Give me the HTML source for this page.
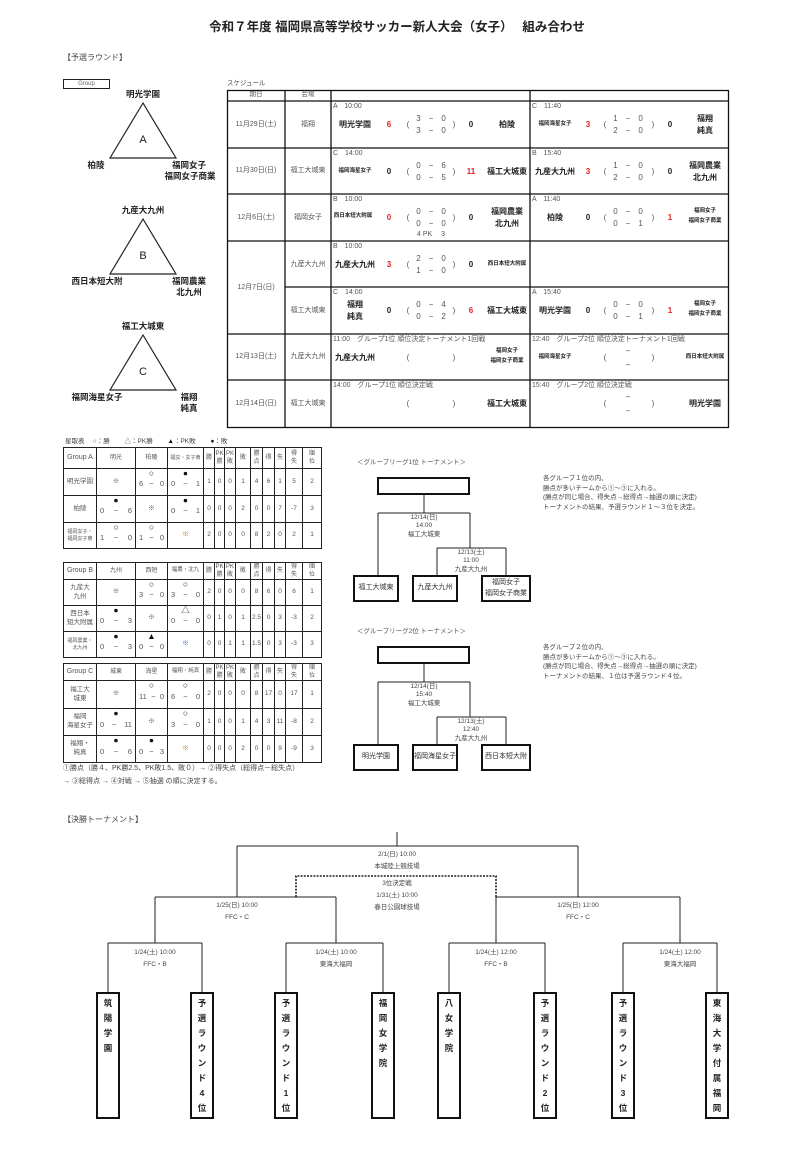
<!DOCTYPE html>
<html><head><meta charset="utf-8">
<style>
*{margin:0;padding:0;box-sizing:border-box}
body{width:807px;height:1154px;background:#fff;position:relative;font-family:"Liberation Sans","Noto Sans CJK JP",sans-serif;color:#222;overflow:hidden}
.a{position:absolute;white-space:nowrap;line-height:1}
.c{position:absolute;white-space:nowrap;line-height:1;transform:translateX(-50%)}
.b{font-weight:bold}
.g{color:#555}
.r{color:#e02020}
.m{position:absolute;width:199px;height:46px;font-size:8px}
.m .c,.m .a{font-size:8px}
.m .lb{position:absolute;left:2px;top:2px;font-size:7px;color:#555;white-space:nowrap;line-height:1}
.sm{font-size:5.5px!important}
table.s{position:absolute;border-collapse:collapse;table-layout:fixed;left:63px;width:258px}
table.s td{border:1.3px solid #222;text-align:center;font-size:6.5px;color:#555;position:relative;padding:0;line-height:1.35}
table.s tr.h td{font-size:6px}
.sc{display:flex;justify-content:space-between;padding:5px 3px 0;font-size:7.5px}
.sy{position:absolute;left:50%;top:0px;transform:translateX(-50%);font-size:8.5px;line-height:1;color:#111}
.tb{position:absolute;border:2.5px solid #111;font-size:7px;display:flex;align-items:center;justify-content:center;text-align:center;color:#333;line-height:1.5}
.vb{position:absolute;width:24px;top:992px;height:127px;border:2.5px solid #111;font-size:8.5px;font-weight:bold;text-align:center;line-height:15px;padding-top:2px;color:#222}
</style></head><body>

<div class="c b" style="left:397px;top:21px;font-size:12.5px">令和７年度 福岡県高等学校サッカー新人大会（女子）　 組み合わせ</div>
<div class="a" style="left:63px;top:54px;font-size:8px;color:#444">【予選ラウンド】</div>

<div class="a" style="left:63px;top:79px;width:47px;height:10px;border:1px solid #222;font-size:6px;color:#666;text-align:center;line-height:8px">Group</div>
<svg width="807" height="1154" style="position:absolute;left:0;top:0" fill="none" stroke="#222">
<g stroke-width="1.2">
<polygon points="143,103 110,158 176,158"/>
<polygon points="143,219 110,274 176,274"/>
<polygon points="143,335 110,390 176,390"/>
</g>
<g stroke-width="1">
<path d="M424,495V513M378,513H470M378,513V575M470,513V548M437,548H506M437,548V575M506,548V575"/>
<path d="M424,664V682M378,682H470M378,682V744M470,682V717M437,717H506M437,717V744M506,717V744"/>
</g>
<g stroke-width="1">
<path d="M397,832V846M237,846H578M237,846V897M578,846V897"/>
<path d="M155,897H336M496,897H680M155,897V943M336,897V943M496,897V943M680,897V943"/>
<path d="M108,943H202M286,943H383M449,943H545M623,943H717"/>
<path d="M108,943V992M202,943V992M286,943V992M383,943V992M449,943V992M545,943V992M623,943V992M717,943V992"/>
</g>
<path d="M296,897V876H496V897" stroke-width="1.6" stroke-dasharray="2,1.2"/>
</svg>
<div class="c b" style="left:143px;top:90px;font-size:8.5px">明光学園</div>
<div class="c" style="left:143px;top:135px;font-size:11px">A</div>
<div class="c b" style="left:96px;top:161px;font-size:8.5px">柏陵</div>
<div class="c b" style="left:189px;top:161px;font-size:8.5px">福岡女子</div>
<div class="c b" style="left:190px;top:172px;font-size:8.5px">福岡女子商業</div>
<div class="c b" style="left:143px;top:206px;font-size:8.5px">九産大九州</div>
<div class="c" style="left:143px;top:251px;font-size:11px">B</div>
<div class="c b" style="left:97px;top:277px;font-size:8.5px">西日本短大附</div>
<div class="c b" style="left:189px;top:277px;font-size:8.5px">福岡農業</div>
<div class="c b" style="left:189px;top:288px;font-size:8.5px">北九州</div>
<div class="c b" style="left:143px;top:322px;font-size:8.5px">福工大城東</div>
<div class="c" style="left:143px;top:367px;font-size:11px">C</div>
<div class="c b" style="left:97px;top:393px;font-size:8.5px">福岡海星女子</div>
<div class="c b" style="left:189px;top:393px;font-size:8.5px">福翔</div>
<div class="c b" style="left:189px;top:404px;font-size:8.5px">純真</div>

<div class="a" style="left:227px;top:81px;font-size:6.5px;color:#444">スケジュール</div>
<svg width="807" height="1154" style="position:absolute;left:0;top:0" fill="none" stroke="#111" stroke-width="1.3">
<rect x="227.5" y="90.5" width="501" height="337"/>
<path d="M285,90V427M331,90V427M530,90V427"/>
<path d="M227,101H728M227,148H728M227,194H728M227,241H728M285,287H728M227,334H728M227,380H728"/>
</svg>
<div class="c g" style="left:256px;top:92px;font-size:6.5px">期日</div>
<div class="c g" style="left:308px;top:92px;font-size:6.5px">会場</div>
<div class="c g" style="left:256px;top:121px;font-size:7px">11月29日(土)</div>
<div class="c g" style="left:308px;top:121px;font-size:7px">福翔</div>
<div class="c g" style="left:256px;top:167px;font-size:7px">11月30日(日)</div>
<div class="c g" style="left:308px;top:167px;font-size:7px">福工大城東</div>
<div class="c g" style="left:256px;top:214px;font-size:7px">12月6日(土)</div>
<div class="c g" style="left:308px;top:214px;font-size:7px">福岡女子</div>
<div class="c g" style="left:256px;top:284px;font-size:7px">12月7日(日)</div>
<div class="c g" style="left:308px;top:261px;font-size:7px">九産大九州</div>
<div class="c g" style="left:308px;top:307px;font-size:7px">福工大城東</div>
<div class="c g" style="left:256px;top:353px;font-size:7px">12月13日(土)</div>
<div class="c g" style="left:308px;top:353px;font-size:7px">九産大九州</div>
<div class="c g" style="left:256px;top:400px;font-size:7px">12月14日(日)</div>
<div class="c g" style="left:308px;top:400px;font-size:7px">福工大城東</div>

<div class="m" style="left:331px;top:101px">
<div class="lb">A　10:00</div>
<div class="c b" style="left:24px;top:20px">明光学園</div><div class="c b r" style="left:58px;top:20px">6</div>
<div class="c g" style="left:77px;top:20px">(</div><div class="c g" style="left:100px;top:14px">3　−　0</div><div class="c g" style="left:100px;top:26px">3　−　0</div><div class="c g" style="left:123px;top:20px">)</div>
<div class="c b" style="left:140px;top:20px">0</div><div class="c b" style="left:176px;top:20px">柏陵</div>
</div>
<div class="m" style="left:530px;top:101px">
<div class="lb">C　11:40</div>
<div class="c b sm" style="left:25px;top:21px">福岡海星女子</div><div class="c b r" style="left:58px;top:20px">3</div>
<div class="c g" style="left:75px;top:20px">(</div><div class="c g" style="left:98px;top:14px">1　−　0</div><div class="c g" style="left:98px;top:26px">2　−　0</div><div class="c g" style="left:123px;top:20px">)</div>
<div class="c b" style="left:140px;top:20px">0</div><div class="c b" style="left:175px;top:14px">福翔</div><div class="c b" style="left:175px;top:26px">純真</div>
</div>
<div class="m" style="left:331px;top:148px">
<div class="lb">C　14:00</div>
<div class="c b sm" style="left:24px;top:21px">福岡海星女子</div><div class="c b" style="left:58px;top:20px">0</div>
<div class="c g" style="left:77px;top:20px">(</div><div class="c g" style="left:100px;top:14px">0　−　6</div><div class="c g" style="left:100px;top:26px">0　−　5</div><div class="c g" style="left:123px;top:20px">)</div>
<div class="c b r" style="left:140px;top:20px">11</div><div class="c b" style="left:176px;top:20px">福工大城東</div>
</div>
<div class="m" style="left:530px;top:148px">
<div class="lb">B　15:40</div>
<div class="c b" style="left:25px;top:20px">九産大九州</div><div class="c b r" style="left:58px;top:20px">3</div>
<div class="c g" style="left:75px;top:20px">(</div><div class="c g" style="left:98px;top:14px">1　−　0</div><div class="c g" style="left:98px;top:26px">2　−　0</div><div class="c g" style="left:123px;top:20px">)</div>
<div class="c b" style="left:140px;top:20px">0</div><div class="c b" style="left:175px;top:14px">福岡農業</div><div class="c b" style="left:175px;top:26px">北九州</div>
</div>
<div class="m" style="left:331px;top:194px">
<div class="lb">B　10:00</div>
<div class="c b sm" style="left:22px;top:20px">西日本短大附属</div><div class="c b r" style="left:58px;top:20px">0</div>
<div class="c g" style="left:77px;top:20px">(</div><div class="c g" style="left:100px;top:14px">0　−　0</div><div class="c g" style="left:100px;top:26px">0　−　0</div><div class="c g" style="left:123px;top:20px">)</div>
<div class="c b" style="left:140px;top:20px">0</div><div class="c b" style="left:176px;top:14px">福岡農業</div><div class="c b" style="left:176px;top:26px">北九州</div>
<div class="c g" style="left:100px;top:37px;font-size:7px">4 PK　 3</div>
</div>
<div class="m" style="left:530px;top:194px">
<div class="lb">A　11:40</div>
<div class="c b" style="left:25px;top:20px">柏陵</div><div class="c b" style="left:58px;top:20px">0</div>
<div class="c g" style="left:75px;top:20px">(</div><div class="c g" style="left:98px;top:14px">0　−　0</div><div class="c g" style="left:98px;top:26px">0　−　1</div><div class="c g" style="left:123px;top:20px">)</div>
<div class="c b r" style="left:140px;top:20px">1</div><div class="c b sm" style="left:175px;top:15px">福岡女子</div><div class="c b sm" style="left:175px;top:25px">福岡女子商業</div>
</div>
<div class="m" style="left:331px;top:241px">
<div class="lb">B　10:00</div>
<div class="c b" style="left:24px;top:20px">九産大九州</div><div class="c b r" style="left:58px;top:20px">3</div>
<div class="c g" style="left:77px;top:20px">(</div><div class="c g" style="left:100px;top:14px">2　−　0</div><div class="c g" style="left:100px;top:26px">1　−　0</div><div class="c g" style="left:123px;top:20px">)</div>
<div class="c b" style="left:140px;top:20px">0</div><div class="c b sm" style="left:176px;top:21px">西日本短大附属</div>
</div>
<div class="m" style="left:331px;top:287px">
<div class="lb">C　14:00</div>
<div class="c b" style="left:24px;top:14px">福翔</div><div class="c b" style="left:24px;top:26px">純真</div><div class="c b" style="left:58px;top:20px">0</div>
<div class="c g" style="left:77px;top:20px">(</div><div class="c g" style="left:100px;top:14px">0　−　4</div><div class="c g" style="left:100px;top:26px">0　−　2</div><div class="c g" style="left:123px;top:20px">)</div>
<div class="c b r" style="left:140px;top:20px">6</div><div class="c b" style="left:176px;top:20px">福工大城東</div>
</div>
<div class="m" style="left:530px;top:287px">
<div class="lb">A　15:40</div>
<div class="c b" style="left:25px;top:20px">明光学園</div><div class="c b" style="left:58px;top:20px">0</div>
<div class="c g" style="left:75px;top:20px">(</div><div class="c g" style="left:98px;top:14px">0　−　0</div><div class="c g" style="left:98px;top:26px">0　−　1</div><div class="c g" style="left:123px;top:20px">)</div>
<div class="c b r" style="left:140px;top:20px">1</div><div class="c b sm" style="left:175px;top:15px">福岡女子</div><div class="c b sm" style="left:175px;top:25px">福岡女子商業</div>
</div>
<div class="m" style="left:331px;top:334px">
<div class="lb">11:00　グループ1位 順位決定トーナメント1回戦</div>
<div class="c b" style="left:24px;top:20px">九産大九州</div>
<div class="c g" style="left:77px;top:20px">(</div><div class="c g" style="left:123px;top:20px">)</div>
<div class="c b sm" style="left:176px;top:15px">福岡女子</div><div class="c b sm" style="left:176px;top:25px">福岡女子商業</div>
</div>
<div class="m" style="left:530px;top:334px">
<div class="lb">12:40　グループ2位 順位決定トーナメント1回戦</div>
<div class="c b sm" style="left:25px;top:21px">福岡海星女子</div>
<div class="c g" style="left:75px;top:20px">(</div><div class="c g" style="left:98px;top:13px">–</div><div class="c g" style="left:98px;top:27px">–</div><div class="c g" style="left:123px;top:20px">)</div>
<div class="c b sm" style="left:175px;top:21px">西日本短大附属</div>
</div>
<div class="m" style="left:331px;top:380px">
<div class="lb">14:00　グループ1位 順位決定戦</div>
<div class="c g" style="left:77px;top:20px">(</div><div class="c g" style="left:123px;top:20px">)</div>
<div class="c b" style="left:176px;top:20px">福工大城東</div>
</div>
<div class="m" style="left:530px;top:380px">
<div class="lb">15:40　グループ2位 順位決定戦</div>
<div class="c g" style="left:75px;top:20px">(</div><div class="c g" style="left:98px;top:13px">–</div><div class="c g" style="left:98px;top:27px">–</div><div class="c g" style="left:123px;top:20px">)</div>
<div class="c b" style="left:175px;top:20px">明光学園</div>
</div>

<div class="a" style="left:65px;top:439px;font-size:6.5px;color:#444">星取表　 ○：勝　　 △：PK勝　　 <span style="color:#111">▲</span>：PK敗　　 <span style="color:#111">●</span>：敗</div>

<table class="s" style="top:447px">
<colgroup><col style="width:33px"><col style="width:39px"><col style="width:32px"><col style="width:36px"><col style="width:11px"><col style="width:10px"><col style="width:11px"><col style="width:15px"><col style="width:12px"><col style="width:12px"><col style="width:11px"><col style="width:17px"><col style="width:19px"></colgroup>
<tr class="h" style="height:21px"><td style="font-size:7px">Group A</td><td>明光</td><td>柏陵</td><td style="font-size:5px">福女・女子商</td><td>勝</td><td>PK<br>勝</td><td>PK<br>敗</td><td>敗</td><td>勝<br>点</td><td>得</td><td>失</td><td>得<br>失</td><td>順<br>位</td></tr>
<tr style="height:27px"><td>明光学園</td><td>※</td><td><span class="sy">○</span><div class="sc"><span>6</span><span>−</span><span>0</span></div></td><td><span class="sy">●</span><div class="sc"><span>0</span><span>−</span><span>1</span></div></td><td>1</td><td>0</td><td>0</td><td>1</td><td>4</td><td>6</td><td>1</td><td>5</td><td>2</td></tr>
<tr style="height:27px"><td>柏陵</td><td><span class="sy">●</span><div class="sc"><span>0</span><span>−</span><span>6</span></div></td><td>※</td><td><span class="sy">●</span><div class="sc"><span>0</span><span>−</span><span>1</span></div></td><td>0</td><td>0</td><td>0</td><td>2</td><td>0</td><td>0</td><td>7</td><td>-7</td><td>3</td></tr>
<tr style="height:26px"><td style="font-size:5px">福岡女子・<br>福岡女子商</td><td><span class="sy">○</span><div class="sc"><span>1</span><span>−</span><span>0</span></div></td><td><span class="sy">○</span><div class="sc"><span>1</span><span>−</span><span>0</span></div></td><td style="color:#d07020">※</td><td>2</td><td>0</td><td>0</td><td>0</td><td>8</td><td>2</td><td>0</td><td>2</td><td>1</td></tr>
</table>

<table class="s" style="top:562px">
<colgroup><col style="width:33px"><col style="width:39px"><col style="width:32px"><col style="width:36px"><col style="width:11px"><col style="width:10px"><col style="width:11px"><col style="width:15px"><col style="width:12px"><col style="width:12px"><col style="width:11px"><col style="width:17px"><col style="width:19px"></colgroup>
<tr class="h" style="height:15px"><td style="font-size:7px">Group B</td><td>九州</td><td>西短</td><td style="font-size:5.5px">福農・北九</td><td>勝</td><td>PK<br>勝</td><td>PK<br>敗</td><td>敗</td><td>勝<br>点</td><td>得</td><td>失</td><td>得<br>失</td><td>順<br>位</td></tr>
<tr style="height:26px"><td>九産大<br>九州</td><td>※</td><td><span class="sy">○</span><div class="sc"><span>3</span><span>−</span><span>0</span></div></td><td><span class="sy">○</span><div class="sc"><span>3</span><span>−</span><span>0</span></div></td><td>2</td><td>0</td><td>0</td><td>0</td><td>8</td><td>6</td><td>0</td><td>6</td><td>1</td></tr>
<tr style="height:26px"><td>西日本<br>短大附属</td><td><span class="sy">●</span><div class="sc"><span>0</span><span>−</span><span>3</span></div></td><td>※</td><td><span class="sy">△</span><div class="sc"><span>0</span><span>−</span><span>0</span></div></td><td>0</td><td>1</td><td>0</td><td>1</td><td>2.5</td><td>0</td><td>3</td><td>-3</td><td>2</td></tr>
<tr style="height:26px"><td style="font-size:5px">福岡農業・<br>北九州</td><td><span class="sy">●</span><div class="sc"><span>0</span><span>−</span><span>3</span></div></td><td><span class="sy">▲</span><div class="sc"><span>0</span><span>−</span><span>0</span></div></td><td style="color:#2060c0">※</td><td>0</td><td>0</td><td>1</td><td>1</td><td>1.5</td><td>0</td><td>3</td><td>-3</td><td>3</td></tr>
</table>

<table class="s" style="top:663px">
<colgroup><col style="width:33px"><col style="width:39px"><col style="width:32px"><col style="width:36px"><col style="width:11px"><col style="width:10px"><col style="width:11px"><col style="width:15px"><col style="width:12px"><col style="width:12px"><col style="width:11px"><col style="width:17px"><col style="width:19px"></colgroup>
<tr class="h" style="height:17px"><td style="font-size:7px">Group C</td><td>城東</td><td>海星</td><td style="font-size:5.5px">福翔・純真</td><td>勝</td><td>PK<br>勝</td><td>PK<br>敗</td><td>敗</td><td>勝<br>点</td><td>得</td><td>失</td><td>得<br>失</td><td>順<br>位</td></tr>
<tr style="height:28px"><td>福工大<br>城東</td><td>※</td><td><span class="sy">○</span><div class="sc"><span>11</span><span>−</span><span>0</span></div></td><td><span class="sy">○</span><div class="sc"><span>6</span><span>−</span><span>0</span></div></td><td>2</td><td>0</td><td>0</td><td>0</td><td>8</td><td>17</td><td>0</td><td>17</td><td>1</td></tr>
<tr style="height:27px"><td>福岡<br>海星女子</td><td><span class="sy">●</span><div class="sc"><span>0</span><span>−</span><span>11</span></div></td><td>※</td><td><span class="sy">○</span><div class="sc"><span>3</span><span>−</span><span>0</span></div></td><td>1</td><td>0</td><td>0</td><td>1</td><td>4</td><td>3</td><td>11</td><td>-8</td><td>2</td></tr>
<tr style="height:27px"><td>福翔・<br>純真</td><td><span class="sy">●</span><div class="sc"><span>0</span><span>−</span><span>6</span></div></td><td><span class="sy">●</span><div class="sc"><span>0</span><span>−</span><span>3</span></div></td><td style="color:#d07020">※</td><td>0</td><td>0</td><td>0</td><td>2</td><td>0</td><td>0</td><td>9</td><td>-9</td><td>3</td></tr>
</table>
<div class="a" style="left:63px;top:765px;font-size:7px;color:#444">①勝点（勝４、PK勝2.5、PK敗1.5、敗０）→ ②得失点（総得点－総失点）</div>
<div class="a" style="left:63px;top:778px;font-size:7px;color:#444">→ ③総得点 → ④対戦 → ⑤抽選 の順に決定する。</div>

<div class="a" style="left:357px;top:460px;font-size:6.5px;color:#555">＜グループリーグ1位 トーナメント＞</div>
<div class="tb" style="left:377px;top:477px;width:93px;height:18px"></div>
<div class="c" style="left:424px;top:514px;font-size:6.5px;color:#444;text-align:center;line-height:1.3">12/14(日)<br>14:00<br>福工大城東</div>
<div class="c" style="left:471px;top:549px;font-size:6.5px;color:#444;text-align:center;line-height:1.3">12/13(土)<br>11:00<br>九産大九州</div>
<div class="tb" style="left:353px;top:575px;width:46px;height:27px">福工大城東</div>
<div class="tb" style="left:412px;top:575px;width:46px;height:27px">九産大九州</div>
<div class="tb" style="left:481px;top:575px;width:50px;height:27px">福岡女子<br>福岡女子商業</div>
<div class="a" style="left:543px;top:474px;font-size:6.5px;color:#444;line-height:9.5px">各グループ１位の内、<br>勝点が多いチームから①～③に入れる。<br>(勝点が同じ場合、得失点→総得点→抽選の順に決定)<br>トーナメントの結果、予選ラウンド１～３位を決定。</div>

<div class="a" style="left:357px;top:629px;font-size:6.5px;color:#555">＜グループリーグ2位 トーナメント＞</div>
<div class="tb" style="left:377px;top:646px;width:93px;height:18px"></div>
<div class="c" style="left:424px;top:683px;font-size:6.5px;color:#444;text-align:center;line-height:1.3">12/14(日)<br>15:40<br>福工大城東</div>
<div class="c" style="left:471px;top:718px;font-size:6.5px;color:#444;text-align:center;line-height:1.3">12/13(土)<br>12:40<br>九産大九州</div>
<div class="tb" style="left:353px;top:744px;width:46px;height:27px">明光学園</div>
<div class="tb" style="left:412px;top:744px;width:46px;height:27px">福岡海星女子</div>
<div class="tb" style="left:481px;top:744px;width:50px;height:27px">西日本短大附</div>
<div class="a" style="left:543px;top:643px;font-size:6.5px;color:#444;line-height:9.5px">各グループ２位の内、<br>勝点が多いチームから①～③に入れる。<br>(勝点が同じ場合、得失点→総得点→抽選の順に決定)<br>トーナメントの結果、１位は予選ラウンド４位。</div>

<div class="a" style="left:63px;top:816px;font-size:8px;color:#444">【決勝トーナメント】</div>
<div class="c" style="left:397px;top:849px;font-size:6.5px;color:#444;text-align:center;line-height:12px">2/1(日) 10:00<br>本城陸上競技場</div>
<div class="c" style="left:397px;top:878px;font-size:6.5px;color:#444;text-align:center;line-height:12px">3位決定戦<br>1/31(土) 10:00<br>春日公園球技場</div>
<div class="c" style="left:237px;top:900px;font-size:6.5px;color:#444;text-align:center;line-height:12px">1/25(日) 10:00<br>FFC・C</div>
<div class="c" style="left:578px;top:900px;font-size:6.5px;color:#444;text-align:center;line-height:12px">1/25(日) 12:00<br>FFC・C</div>
<div class="c" style="left:155px;top:947px;font-size:6.5px;color:#444;text-align:center;line-height:12px">1/24(土) 10:00<br>FFC・B</div>
<div class="c" style="left:336px;top:947px;font-size:6.5px;color:#444;text-align:center;line-height:12px">1/24(土) 10:00<br>東海大福岡</div>
<div class="c" style="left:496px;top:947px;font-size:6.5px;color:#444;text-align:center;line-height:12px">1/24(土) 12:00<br>FFC・B</div>
<div class="c" style="left:680px;top:947px;font-size:6.5px;color:#444;text-align:center;line-height:12px">1/24(土) 12:00<br>東海大福岡</div>

<div class="vb" style="left:96px">筑<br>陽<br>学<br>園</div>
<div class="vb" style="left:190px">予<br>選<br>ラ<br>ウ<br>ン<br>ド<br>4<br>位</div>
<div class="vb" style="left:274px">予<br>選<br>ラ<br>ウ<br>ン<br>ド<br>1<br>位</div>
<div class="vb" style="left:371px">福<br>岡<br>女<br>学<br>院</div>
<div class="vb" style="left:437px">八<br>女<br>学<br>院</div>
<div class="vb" style="left:533px">予<br>選<br>ラ<br>ウ<br>ン<br>ド<br>2<br>位</div>
<div class="vb" style="left:611px">予<br>選<br>ラ<br>ウ<br>ン<br>ド<br>3<br>位</div>
<div class="vb" style="left:705px">東<br>海<br>大<br>学<br>付<br>属<br>福<br>岡</div>
</body></html>
